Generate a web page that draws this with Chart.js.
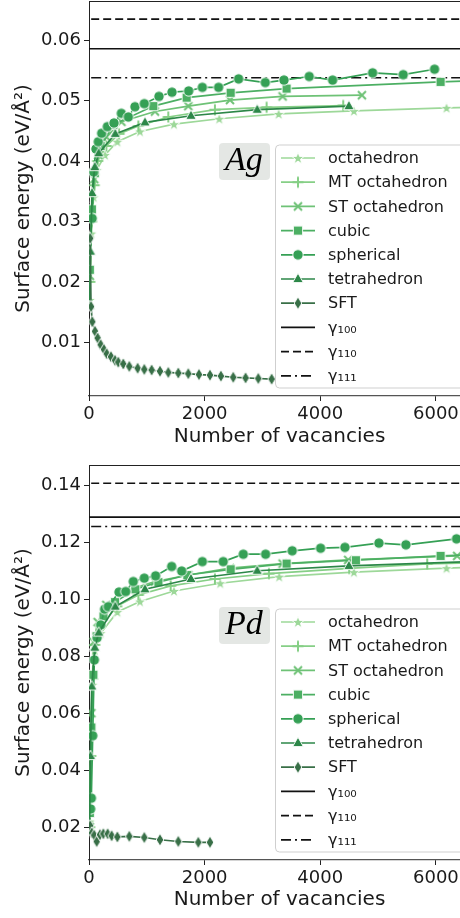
<!DOCTYPE html>
<html><head><meta charset="utf-8">
<script src="https://cdn.jsdelivr.net/npm/chart.js@4"></script>
<style>
html,body{margin:0;padding:0;background:#fff;overflow:hidden;width:460px;height:918px;}
#w1{position:absolute;left:0;top:0;width:470px;height:455px;}
#w2{position:absolute;left:0;top:455px;width:470px;height:463px;}
</style></head><body>
<div id="w1"><canvas id="c1"></canvas></div>
<div id="w2"><canvas id="c2"></canvas></div>
<script>
// ---------- tick labels / categories ----------
const xTicks = [0, 2000, 4000, 6000];
const agYTicks = [0.01, 0.02, 0.03, 0.04, 0.05, 0.06];
const pdYTicks = [0.02, 0.04, 0.06, 0.08, 0.10, 0.12, 0.14];
const seriesNames = ['octahedron', 'MT octahedron', 'ST octahedron', 'cubic', 'spherical', 'tetrahedron', 'SFT'];
const gammaNames = ['γ₁₀₀', 'γ₁₁₀', 'γ₁₁₁'];

// ---------- Ag ----------
const agGamma = [0.0586, 0.0635, 0.0538];
const agOctX = [13, 40, 80, 133, 277, 490, 882, 1470, 2253, 3280, 4582, 6184, 7000];
const agOctY = [0.0170, 0.0280, 0.0340, 0.0385, 0.0410, 0.0432, 0.0449, 0.0461, 0.0470, 0.0478, 0.0483, 0.0488, 0.0490];
const agMtX = [15, 45, 90, 150, 300, 520, 853, 1371, 2178, 3072, 4397];
const agMtY = [0.0200, 0.0300, 0.0360, 0.0400, 0.0425, 0.0445, 0.0458, 0.0473, 0.0485, 0.0489, 0.0492];
const agStX = [15, 45, 90, 160, 300, 560, 1141, 1717, 2438, 3349, 4720];
const agStY = [0.0210, 0.0310, 0.0370, 0.0410, 0.0440, 0.0465, 0.0482, 0.0491, 0.0501, 0.0507, 0.0509];
const agCubX = [15, 50, 100, 200, 420, 1112, 1689, 2450, 3418, 6081, 7000];
const agCubY = [0.0220, 0.0320, 0.0380, 0.0425, 0.0460, 0.0491, 0.0505, 0.0513, 0.0520, 0.0531, 0.0534];
const agSphX = [55, 80, 121, 161, 219, 317, 432, 559, 680, 795, 956, 1210, 1435, 1724, 1960, 2242, 2588, 3049, 3372, 3809, 4213, 4905, 5435, 5977];
const agSphY = [0.0305, 0.0382, 0.0420, 0.0432, 0.0446, 0.0457, 0.0463, 0.0479, 0.0473, 0.0490, 0.0495, 0.0507, 0.0514, 0.0516, 0.0522, 0.0522, 0.0536, 0.0530, 0.0534, 0.0540, 0.0534, 0.0546, 0.0543, 0.0552];
const agTetX = [10, 25, 52, 100, 168, 455, 968, 1764, 2910, 4495];
const agTetY = [0.0160, 0.0250, 0.0347, 0.0390, 0.0413, 0.0445, 0.0464, 0.0475, 0.0485, 0.0491];
const agSftX = [20, 35, 57, 104, 150, 202, 259, 306, 380, 450, 507, 593, 697, 842, 956, 1084, 1228, 1371, 1544, 1717, 1902, 2092, 2282, 2495, 2709, 2928, 3159];
const agSftY = [0.0272, 0.0159, 0.0134, 0.0118, 0.0107, 0.0096, 0.0088, 0.0081, 0.0076, 0.0070, 0.0067, 0.0064, 0.0060, 0.0057, 0.0055, 0.0054, 0.0052, 0.0050, 0.0049, 0.0048, 0.00465, 0.00455, 0.0044, 0.0042, 0.0041, 0.0040, 0.0039];

// ---------- Pd ----------
const pdGamma = [0.1288, 0.1407, 0.1255];
const pdOctX = [12, 30, 60, 100, 202, 490, 882, 1470, 2270, 3290, 4582, 6184, 7000];
const pdOctY = [0.0220, 0.0450, 0.0700, 0.0820, 0.0881, 0.0955, 0.0992, 0.1029, 0.1056, 0.1079, 0.1095, 0.1109, 0.1115];
const pdMtX = [12, 30, 60, 100, 200, 480, 853, 1412, 2178, 3112, 4500, 5850, 7000];
const pdMtY = [0.0200, 0.0450, 0.0720, 0.0840, 0.0905, 0.0975, 0.1015, 0.1047, 0.1071, 0.1090, 0.1108, 0.1124, 0.1130];
const pdStX = [15, 40, 80, 150, 300, 560, 1141, 1717, 2438, 3349, 4483, 6368];
const pdStY = [0.0200, 0.0600, 0.0850, 0.0920, 0.0980, 0.1025, 0.1062, 0.1085, 0.1109, 0.1125, 0.1138, 0.1152];
const pdCubX = [15, 40, 75, 130, 250, 450, 800, 1200, 1700, 2450, 3418, 4617, 6081, 7000];
const pdCubY = [0.0250, 0.0550, 0.0735, 0.0870, 0.0940, 0.0990, 0.1035, 0.1060, 0.1085, 0.1105, 0.1125, 0.1137, 0.1152, 0.1158];
const pdSphX = [28, 40, 64, 92, 140, 202, 270, 334, 519, 635, 766, 956, 1152, 1430, 1603, 1960, 2322, 2668, 3055, 3515, 4006, 4426, 5014, 5481, 6357];
const pdSphY = [0.0264, 0.0302, 0.0521, 0.0787, 0.0865, 0.0910, 0.0965, 0.0974, 0.1025, 0.1027, 0.1062, 0.1074, 0.1082, 0.1115, 0.1099, 0.1132, 0.1132, 0.1158, 0.1158, 0.1170, 0.1179, 0.1182, 0.1197, 0.1191, 0.1212];
const pdTetX = [10, 25, 47, 100, 168, 455, 968, 1764, 2910, 4495, 7000];
const pdTetY = [0.0200, 0.0450, 0.0694, 0.0830, 0.0883, 0.0974, 0.1035, 0.1071, 0.1100, 0.1117, 0.1135];
const pdSftX = [20, 47, 90, 133, 190, 248, 323, 392, 490, 697, 956, 1228, 1544, 1890, 2092];
const pdSftY = [0.0205, 0.0180, 0.0172, 0.0150, 0.0174, 0.0177, 0.0177, 0.0170, 0.0166, 0.0168, 0.0164, 0.0156, 0.0150, 0.0147, 0.0147];

// ---------- styles ----------
const seriesColors = ['#9dd899', '#86cf86', '#6ec276', '#4caf63', '#35a055', '#2c8748', '#386f47'];
const seriesMarkers = ['star', 'plus', 'x', 'square', 'circle', 'triangle', 'diamond'];
const gammaDash = [[], [8, 4], [10, 4, 2, 4]];
const FONT = 'DejaVu Sans';
const TXT = '#1a1a1a';

function makeMarker(shape, color) {
  const S = 18, c = document.createElement('canvas');
  c.width = S; c.height = S;
  const g = c.getContext('2d');
  const m = S / 2;
  g.fillStyle = color; g.strokeStyle = '#ffffff'; g.lineWidth = 0.9; g.lineJoin = 'miter';
  g.beginPath();
  if (shape === 'circle') { g.arc(m, m, 5.2, 0, Math.PI * 2); }
  else if (shape === 'square') { g.rect(m - 4.6, m - 4.6, 9.2, 9.2); }
  else if (shape === 'triangle') { g.moveTo(m, m - 5.8); g.lineTo(m + 5.3, m + 3.6); g.lineTo(m - 5.3, m + 3.6); g.closePath(); }
  else if (shape === 'diamond') { g.moveTo(m, m - 6.2); g.lineTo(m + 3.8, m); g.lineTo(m, m + 6.2); g.lineTo(m - 3.8, m); g.closePath(); }
  else if (shape === 'star') {
    for (let i = 0; i < 10; i++) {
      const r = i % 2 === 0 ? 6.4 : 2.6, a = -Math.PI / 2 + i * Math.PI / 5;
      const px = m + r * Math.cos(a), py = m + 0.5 + r * Math.sin(a);
      if (i === 0) g.moveTo(px, py); else g.lineTo(px, py);
    }
    g.closePath();
  }
  if (shape === 'plus' || shape === 'x') {
    g.strokeStyle = color; g.lineWidth = 2; g.lineCap = 'butt';
    if (shape === 'plus') { g.moveTo(m - 5.5, m); g.lineTo(m + 5.5, m); g.moveTo(m, m - 5.5); g.lineTo(m, m + 5.5); }
    else { g.moveTo(m - 4, m - 4); g.lineTo(m + 4, m + 4); g.moveTo(m + 4, m - 4); g.lineTo(m - 4, m + 4); }
    g.stroke();
  } else {
    g.fill(); g.stroke();
  }
  return c;
}
const markerImgs = seriesMarkers.map((s, i) => makeMarker(s, seriesColors[i]));

function pts(xs, ys) { return xs.map((x, i) => ({ x: x, y: ys[i] })); }

function buildDatasets(series, gamma) {
  const ds = series.map((s, i) => ({
    label: seriesNames[i],
    data: pts(s[0], s[1]),
    borderColor: seriesColors[i],
    borderWidth: 1.7,
    pointStyle: markerImgs[i],
    pointRadius: 5,
    pointHoverRadius: 5,
    fill: false,
    tension: 0,
    order: 10 - i
  }));
  gamma.forEach((g, j) => ds.push({
    label: gammaNames[j],
    data: [{ x: -1000, y: g }, { x: 10000, y: g }],
    borderColor: '#111111',
    borderWidth: 1.6,
    borderDash: gammaDash[j],
    pointRadius: 0,
    fill: false,
    order: 20
  }));
  return ds;
}

function roundRect(ctx, x, y, w, h, r) {
  ctx.beginPath();
  ctx.moveTo(x + r, y); ctx.lineTo(x + w - r, y); ctx.quadraticCurveTo(x + w, y, x + w, y + r);
  ctx.lineTo(x + w, y + h - r); ctx.quadraticCurveTo(x + w, y + h, x + w - r, y + h);
  ctx.lineTo(x + r, y + h); ctx.quadraticCurveTo(x, y + h, x, y + h - r);
  ctx.lineTo(x, y + r); ctx.quadraticCurveTo(x, y, x + r, y); ctx.closePath();
}

function overlay(elementLabel) {
  return {
    id: 'overlay',
    afterDatasetsDraw(chart) {
      const ctx = chart.ctx, a = chart.chartArea;
      ctx.save();
      // top spine
      ctx.strokeStyle = '#222'; ctx.lineWidth = 1; ctx.setLineDash([]);
      ctx.beginPath(); ctx.moveTo(a.left, a.top + 0.5); ctx.lineTo(a.right + 5, a.top + 0.5); ctx.stroke();
      // legend box
      const lt = a.bottom - 251, lb = a.bottom - 8, ll = 275.5;
      roundRect(ctx, ll, lt, 230, lb - lt, 4);
      ctx.fillStyle = 'rgba(255,255,255,0.85)'; ctx.fill();
      ctx.strokeStyle = '#cfcfcf'; ctx.lineWidth = 1; ctx.stroke();
      ctx.font = '16px "' + FONT + '"'; ctx.textBaseline = 'middle'; ctx.textAlign = 'left';
      const names = seriesNames.concat(gammaNames);
      for (let i = 0; i < names.length; i++) {
        const y = lt + 13 + i * 24.2;
        ctx.lineWidth = 1.7;
        if (i < seriesNames.length) {
          ctx.strokeStyle = seriesColors[i]; ctx.setLineDash([]);
          ctx.beginPath(); ctx.moveTo(281, y); ctx.lineTo(315, y); ctx.stroke();
          const im = markerImgs[i];
          ctx.drawImage(im, 298 - im.width / 2, y - im.height / 2);
        } else {
          ctx.strokeStyle = '#111'; ctx.setLineDash(gammaDash[i - seriesNames.length]);
          ctx.beginPath(); ctx.moveTo(281, y); ctx.lineTo(315, y); ctx.stroke();
          ctx.setLineDash([]);
        }
        ctx.fillStyle = TXT;
        ctx.fillText(names[i], 328, y + 1);
      }
      // element label
      roundRect(ctx, 219, lt - 2, 51, 37, 4);
      ctx.fillStyle = 'rgba(225,228,225,0.9)'; ctx.fill();
      ctx.fillStyle = '#000';
      ctx.font = 'italic 34px "Liberation Serif"'; ctx.textBaseline = 'alphabetic';
      ctx.fillText(elementLabel, 225, lt + 25);
      ctx.restore();
    }
  };
}

function makeChart(id, series, gamma, yMin, yMax, yTicks, padTop, xH, label) {
  return new Chart(document.getElementById(id), {
    type: 'line',
    data: { datasets: buildDatasets(series, gamma) },
    options: {
      responsive: true, maintainAspectRatio: false, animation: false,
      layout: { autoPadding: false, padding: { left: 0, right: 0, top: padTop, bottom: 0 } },
      plugins: { legend: { display: false }, tooltip: { enabled: false } },
      scales: {
        x: {
          type: 'linear', min: 0, max: 6590,
          afterBuildTicks: s => { s.ticks = xTicks.map(v => ({ value: v })); },
          afterFit: s => { s.height = xH; s.paddingLeft = 0; s.paddingRight = 0; },
          grid: { drawOnChartArea: false, drawTicks: true, tickLength: 5, color: '#222', tickWidth: 1 },
          border: { display: true, color: '#555', width: 1.2 },
          ticks: { color: TXT, font: { family: FONT, size: 18 }, padding: 3, maxRotation: 0, autoSkip: false, callback: v => String(v) },
          title: { display: true, text: 'Number of vacancies', color: TXT, font: { family: FONT, size: 20 }, padding: { top: 0, bottom: 6 } }
        },
        y: {
          type: 'linear', min: yMin, max: yMax,
          afterBuildTicks: s => { s.ticks = yTicks.map(v => ({ value: v })); },
          afterFit: s => { s.width = 89; s.paddingTop = 0; s.paddingBottom = 0; },
          grid: { drawOnChartArea: false, drawTicks: true, tickLength: 5, color: '#222', tickWidth: 1 },
          border: { display: true, color: '#222', width: 1 },
          ticks: { color: TXT, font: { family: FONT, size: 18 }, padding: 3, autoSkip: false, callback: v => v.toFixed(2) },
          title: { display: true, text: 'Surface energy (eV/Å²)', color: TXT, font: { family: FONT, size: 20 }, padding: { top: 12, bottom: 0 } }
        }
      }
    },
    plugins: [overlay(label)]
  });
}

makeChart('c1', [[agOctX, agOctY], [agMtX, agMtY], [agStX, agStY], [agCubX, agCubY], [agSphX, agSphY], [agTetX, agTetY], [agSftX, agSftY]],
  agGamma, 0.0011, 0.0665, agYTicks, 1, 59, 'Ag');
makeChart('c2', [[pdOctX, pdOctY], [pdMtX, pdMtY], [pdStX, pdStY], [pdCubX, pdCubY], [pdSphX, pdSphY], [pdTetX, pdTetY], [pdSftX, pdSftY]],
  pdGamma, 0.0085, 0.1471, pdYTicks, 10, 58, 'Pd');
</script>
</body></html>
